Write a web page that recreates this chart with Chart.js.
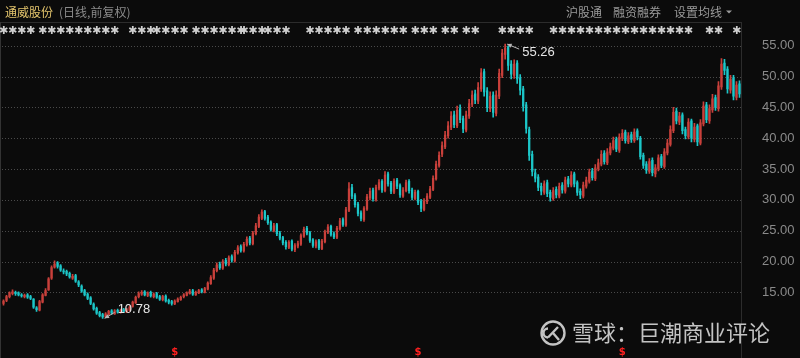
<!DOCTYPE html>
<html><head><meta charset="utf-8">
<script src="https://cdn.jsdelivr.net/npm/chart.js@4.4.1/dist/chart.umd.min.js"></script>
<style>html,body{margin:0;padding:0;background:#0b0b0b;}#wrap{width:800px;height:358px;position:relative;}</style>
</head><body><div id="wrap"><canvas id="c" width="800" height="358"></canvas></div>
<script>
const opens = [13.2,13.7,14.3,14.8,15.0,14.9,14.6,14.3,14.6,14.3,13.9,12.5,12.1,13.4,14.5,15.4,17.3,19.1,19.8,19.3,
18.5,18.4,18.1,17.3,17.7,16.7,16.0,15.3,14.7,14.1,13.1,12.4,11.7,11.4,11.0,11.4,12.0,11.5,12.1,11.7,
12.2,11.8,12.1,12.7,13.3,14.3,14.7,15.1,14.5,15.0,14.3,14.8,14.3,13.8,14.4,13.7,13.5,13.1,13.5,13.8,
14.3,14.5,14.8,15.3,14.6,14.9,15.4,15.0,15.5,16.4,17.3,18.5,19.6,18.9,20.2,19.5,20.8,20.1,21.4,22.4,
21.7,22.7,23.8,22.9,24.5,25.7,27.0,28.1,27.2,26.4,25.0,26.0,24.6,23.9,23.1,22.3,23.3,21.9,22.5,22.8,
24.1,25.4,24.7,23.5,22.5,23.4,22.1,23.2,24.7,25.7,24.5,23.9,25.3,26.8,25.9,28.3,32.0,30.7,29.3,27.9,
26.8,28.5,30.3,31.6,30.0,31.9,33.0,31.5,34.2,32.7,31.2,33.2,32.3,30.6,31.5,33.0,31.6,30.2,31.4,29.8,
28.4,29.7,30.4,31.7,33.4,35.6,37.4,38.6,40.4,41.8,43.8,42.0,44.8,43.2,41.3,43.6,45.5,47.2,46.0,48.0,
50.8,47.7,44.8,47.0,44.0,46.8,50.2,53.6,54.8,52.0,50.2,52.2,49.8,48.0,45.4,41.4,37.4,34.4,33.7,32.2,
31.2,32.8,31.2,30.2,31.7,30.6,32.4,31.4,33.4,32.4,34.2,32.8,31.4,30.6,32.2,33.0,34.7,33.4,35.0,35.8,
37.6,36.0,37.6,38.4,39.8,38.0,40.0,41.0,39.4,40.6,39.6,41.2,40.0,37.2,35.8,34.6,36.4,34.2,35.0,37.0,
35.4,37.6,39.0,41.2,44.4,42.6,43.8,41.4,40.2,42.8,39.8,42.0,39.2,42.3,45.4,42.8,44.6,46.6,44.8,48.3,
52.2,51.2,47.8,49.8,46.6,48.8];
const closes = [13.6,14.3,14.9,15.1,14.8,14.6,14.4,14.5,14.2,14.0,12.6,12.2,13.5,14.6,15.3,17.2,19.0,19.6,19.2,18.6,
18.3,18.0,17.5,17.6,16.8,16.2,15.2,14.6,14.0,13.2,12.3,11.6,11.2,11.0,11.5,11.9,11.6,12.0,11.8,12.1,
11.9,12.2,12.6,13.4,14.2,14.8,15.0,14.6,14.9,14.4,14.7,14.2,13.9,14.3,13.6,13.4,13.2,13.6,13.9,14.2,
14.6,14.9,15.2,14.7,15.0,15.3,15.1,15.6,16.5,17.4,18.6,19.4,19.0,20.0,19.6,20.6,20.2,21.5,22.2,21.8,
22.8,23.6,23.0,24.6,25.8,27.2,28.0,27.0,26.3,25.2,25.8,24.5,23.8,23.0,22.4,23.1,22.0,22.6,22.9,24.2,
25.2,24.6,23.4,22.6,23.2,22.2,23.3,24.8,25.6,24.4,24.0,25.4,26.6,26.0,28.4,31.8,30.6,29.2,27.8,27.0,
28.6,30.5,31.4,30.2,32.0,32.8,31.6,34.0,32.6,31.4,33.0,32.2,30.8,31.6,32.8,31.5,30.4,31.2,29.6,28.6,
29.8,30.6,31.8,33.5,35.8,37.2,38.8,40.5,42.0,43.6,42.2,44.5,43.0,41.5,43.8,45.6,47.0,46.2,48.2,50.6,
47.5,45.0,46.8,44.2,47.0,50.5,53.8,54.6,51.8,50.4,52.0,49.6,47.8,45.2,41.6,37.2,34.6,33.5,32.0,31.4,
32.6,31.0,30.4,31.5,30.8,32.2,31.6,33.2,32.6,34.0,32.6,31.2,30.8,32.4,33.2,34.5,33.6,35.2,36.0,37.4,
36.2,37.8,38.6,39.6,38.2,40.2,40.8,39.6,40.4,39.8,41.0,40.2,37.0,35.6,34.8,36.2,34.4,35.2,36.8,35.6,
37.8,39.2,41.4,44.2,42.8,43.6,41.2,40.4,42.6,40.0,41.8,39.4,42.5,45.2,43.0,44.8,46.4,45.0,48.5,52.0,
51.0,48.0,49.6,46.8,48.6,47.2];
const highs = [13.8,14.5,15.1,15.4,15.2,15.1,14.8,14.7,14.8,14.5,14.0,12.7,13.7,14.8,15.6,17.4,19.3,20.1,20.0,19.5,
18.8,18.6,18.3,17.9,17.9,16.9,16.2,15.5,14.9,14.3,13.3,12.6,11.9,11.6,11.7,12.1,12.2,12.2,12.3,12.3,
12.4,12.4,12.8,13.6,14.4,15.1,15.3,15.3,15.1,15.2,14.9,15.0,14.5,14.5,14.6,13.9,13.7,13.8,14.1,14.4,
14.8,15.1,15.5,15.5,15.2,15.5,15.6,15.8,16.7,17.7,18.9,19.8,19.9,20.3,20.5,20.9,21.1,21.8,22.6,22.7,
23.1,24.0,24.1,24.9,26.2,27.6,28.4,28.3,27.5,26.6,26.2,26.2,24.9,24.1,23.4,23.4,23.5,22.9,23.3,24.5,
25.6,25.7,24.9,23.7,23.5,23.6,23.6,25.1,26.0,25.9,24.8,25.7,27.0,27.1,28.8,32.8,32.5,31.0,29.6,28.2,
28.9,30.9,31.9,31.9,32.4,33.3,33.3,34.6,34.5,33.0,33.4,33.5,32.6,32.0,33.2,33.3,31.9,31.6,31.6,30.1,
30.2,31.0,32.2,33.9,36.3,37.8,39.4,41.1,42.7,44.3,44.4,45.2,45.4,43.6,44.4,46.3,47.7,47.8,49.0,51.3,
51.2,48.2,47.5,47.5,47.7,51.2,54.4,55.26,55.0,52.6,52.7,52.6,50.3,48.4,45.8,41.8,37.9,35.0,34.1,32.7,
33.1,33.2,31.6,32.0,32.1,32.7,32.8,33.7,33.8,34.6,34.5,33.1,31.8,32.9,33.7,35.0,35.1,35.7,36.6,38.0,
38.0,38.3,39.2,40.2,40.2,40.7,41.4,41.3,40.9,41.0,41.5,41.5,40.3,37.6,36.2,36.7,36.8,35.7,37.3,37.4,
38.3,39.8,42.0,45.0,44.9,44.2,44.1,41.8,43.2,43.1,42.4,42.3,43.0,45.9,45.8,45.4,47.1,47.0,49.2,52.9,
52.8,51.6,50.2,50.2,49.2,49.3];
const lows = [12.9,13.5,14.1,14.6,14.5,14.4,14.2,14.1,14.0,13.8,12.4,11.9,12.0,13.3,14.4,15.3,17.1,18.9,18.9,18.4,
18.0,17.7,17.3,17.1,16.6,15.9,15.0,14.4,13.8,13.0,12.1,11.4,11.0,10.78,10.9,11.3,11.4,11.4,11.6,11.6,
11.7,11.7,12.0,12.6,13.2,14.1,14.5,14.4,14.3,14.2,14.1,14.0,13.7,13.6,13.4,13.1,12.9,13.0,13.4,13.7,
14.1,14.4,14.7,14.5,14.5,14.8,14.9,14.9,15.4,16.3,17.1,18.3,18.7,18.7,19.3,19.3,19.9,19.9,21.2,21.5,
21.5,22.5,22.7,22.7,24.3,25.5,26.8,26.7,26.0,24.9,24.8,24.2,23.5,22.7,22.0,22.1,21.7,21.6,22.2,22.6,
23.9,24.3,23.1,22.3,22.2,21.9,21.9,23.0,24.5,24.1,23.7,23.7,25.1,25.7,25.7,28.1,30.2,28.8,27.4,26.6,
26.5,28.3,30.0,29.8,29.8,31.6,31.2,31.3,32.2,31.0,31.0,31.8,30.4,30.4,31.3,31.1,30.0,30.0,29.2,28.1,
28.2,29.4,30.2,31.5,33.2,35.3,37.0,38.3,40.0,41.4,41.7,41.7,42.5,40.9,41.0,43.2,45.1,45.6,45.6,47.6,
46.8,44.3,44.3,43.4,43.6,46.4,49.8,52.8,51.0,49.6,49.7,48.9,47.0,44.4,40.8,36.4,33.9,32.9,31.5,30.8,
30.9,30.5,29.8,29.9,30.3,30.3,31.1,31.1,32.1,32.1,32.1,30.7,30.2,30.3,31.9,32.7,33.2,33.1,34.7,35.5,
35.8,35.7,37.3,38.1,37.8,37.7,39.6,39.2,39.1,39.3,39.3,39.7,36.6,35.1,34.3,34.3,33.9,33.7,34.7,35.2,
35.1,37.3,38.7,40.9,42.3,42.2,40.7,39.9,39.9,39.4,39.4,38.8,38.9,42.0,42.5,42.4,44.2,44.5,44.4,47.9,
50.3,47.3,47.3,46.2,46.2,46.6];
const yTicks = [15,20,25,30,35,40,45,50,55];
const eventRanges = [[0,10],[13,31],[34,39],[43,49],[51,60],[64,79],[80,86],[88,96],[102,116],[118,122],[124,134],[137,145],[147,151],[154,159],[166,175],[183,229],[235,240],[244,245]];
const dividendIdx = [57,138,206];
const highIdx = 167, lowIdx = 33;
const labels = closes.map((_, i) => 'D' + (i + 1));

const UP = '#c9403b', DOWN = '#1cc6c8';
const colors = closes.map((c, i) => c >= opens[i] ? UP : DOWN);

const deco = {
  id: 'deco',
  beforeDraw(chart) {
    const ctx = chart.ctx, a = chart.chartArea;
    ctx.save();
    ctx.fillStyle = '#0b0b0b';
    ctx.fillRect(0, 0, chart.width, chart.height);
    ctx.font = '12px "Noto Sans CJK SC"';
    ctx.textBaseline = 'middle';
    ctx.textAlign = 'left';
    ctx.fillStyle = '#e3c46c';
    ctx.fillText('通威股份', 5, 12);
    ctx.fillStyle = '#8a8a8a';
    ctx.fillText('(日线,前复权)', 59, 12);
    ctx.fillStyle = '#9a9a9a';
    ctx.fillText('沪股通', 566, 12);
    ctx.fillText('融资融券', 613, 12);
    ctx.fillText('设置均线', 674, 12);
    ctx.beginPath();
    ctx.moveTo(726, 10.5); ctx.lineTo(732, 10.5); ctx.lineTo(729, 13.5); ctx.closePath();
    ctx.fill();
    ctx.strokeStyle = '#2c2c2c';
    ctx.lineWidth = 1;
    ctx.beginPath();
    ctx.moveTo(0, 22.5); ctx.lineTo(a.right, 22.5);
    ctx.moveTo(a.right + 0.5, 22); ctx.lineTo(a.right + 0.5, chart.height);
    ctx.stroke();
    ctx.strokeStyle = '#333';
    ctx.beginPath();
    ctx.moveTo(0.5, 22); ctx.lineTo(0.5, chart.height);
    ctx.stroke();
    ctx.restore();
  },
  beforeDatasetsDraw(chart) {
    const ctx = chart.ctx, a = chart.chartArea, y = chart.scales.y;
    ctx.save();
    ctx.strokeStyle = '#4a4a4a';
    ctx.lineWidth = 1;
    ctx.setLineDash([1, 2]);
    yTicks.forEach(v => {
      const py = Math.round(y.getPixelForValue(v)) + 0.5;
      ctx.beginPath(); ctx.moveTo(a.left, py); ctx.lineTo(a.right, py); ctx.stroke();
    });
    ctx.restore();
  },
  afterDatasetsDraw(chart) {
    const ctx = chart.ctx, x = chart.scales.x, y = chart.scales.y;
    ctx.save();
    ctx.fillStyle = '#cfcfcf';
    ctx.font = '11px "DejaVu Sans"';
    ctx.textAlign = 'center';
    ctx.textBaseline = 'middle';
    eventRanges.forEach(([s, e]) => {
      for (let i = s; i <= e; i += 3) ctx.fillText('✱', x.getPixelForValue(i), 31);
    });
    ctx.fillStyle = '#ff2020';
    ctx.font = 'bold 10px "DejaVu Sans"';
    dividendIdx.forEach(i => ctx.fillText('$', x.getPixelForValue(i), 352));
    const arrow = (x0, y0, x1, y1) => {
      ctx.strokeStyle = '#b8b8b8'; ctx.fillStyle = '#b8b8b8'; ctx.lineWidth = 1;
      ctx.beginPath(); ctx.moveTo(x0, y0); ctx.lineTo(x1, y1); ctx.stroke();
      const ang = Math.atan2(y1 - y0, x1 - x0);
      ctx.beginPath();
      ctx.moveTo(x1, y1);
      ctx.lineTo(x1 - 5 * Math.cos(ang - 0.45), y1 - 5 * Math.sin(ang - 0.45));
      ctx.lineTo(x1 - 5 * Math.cos(ang + 0.45), y1 - 5 * Math.sin(ang + 0.45));
      ctx.closePath(); ctx.fill();
    };
    const hx = x.getPixelForValue(highIdx), hy = y.getPixelForValue(highs[highIdx]);
    arrow(hx + 14, hy + 5, hx + 2, hy);
    const lx = x.getPixelForValue(lowIdx), ly = y.getPixelForValue(lows[lowIdx]);
    arrow(lx + 12, ly - 6, lx + 2, ly);
    ctx.fillStyle = '#e6e6e6';
    ctx.font = '13px "Liberation Sans"';
    ctx.textAlign = 'left';
    ctx.fillText(highs[highIdx].toFixed(2), hx + 17, hy + 8);
    ctx.fillText(lows[lowIdx].toFixed(2), lx + 15, ly - 9);
    // watermark logo
    ctx.strokeStyle = 'rgba(215,215,215,0.9)';
    ctx.lineWidth = 2.4;
    ctx.beginPath(); ctx.arc(553, 333, 11.5, 0, Math.PI * 2); ctx.stroke();
    ctx.beginPath();
    ctx.arc(548, 333, 4.5, -Math.PI * 0.5, Math.PI * 0.5, true);
    ctx.moveTo(548, 337.5); ctx.lineTo(558, 327);
    ctx.moveTo(553, 333); ctx.lineTo(559, 340);
    ctx.stroke();
    ctx.fillStyle = 'rgba(215,215,215,0.9)';
    ctx.font = '22px "Noto Sans CJK SC"';
    ctx.textBaseline = 'middle';
    ctx.fillText('雪球：巨潮商业评论', 572, 333);
    ctx.restore();
  }
};

new Chart(document.getElementById('c'), {
  type: 'bar',
  data: {
    labels,
    datasets: [
      { label: 'wick', data: highs.map((h, i) => [lows[i], h]), backgroundColor: colors, barThickness: 1, grouped: false, order: 2 },
      { label: 'body', data: opens.map((o, i) => [o, closes[i]]), backgroundColor: colors, barThickness: 1.6, grouped: false, order: 1 }
    ]
  },
  options: {
    responsive: false,
    animation: false,
    events: [],
    layout: { padding: { top: 38, left: 2, right: 0, bottom: 0 } },
    plugins: { legend: { display: false }, tooltip: { enabled: false } },
    scales: {
      x: { display: false, offset: true, grid: { display: false } },
      y: {
        position: 'right',
        min: 9.02, max: 56.25,
        afterBuildTicks(s) { s.ticks = yTicks.map(v => ({ value: v })); },
        afterFit(s) { s.width = 59; },
        grid: { display: false, drawTicks: false },
        border: { display: false },
        ticks: {
          padding: 21, color: '#8a8a8a',
          font: { family: 'Liberation Sans', size: 13 },
          callback: v => Number(v).toFixed(2)
        }
      }
    }
  },
  plugins: [deco]
});
</script></body></html>
